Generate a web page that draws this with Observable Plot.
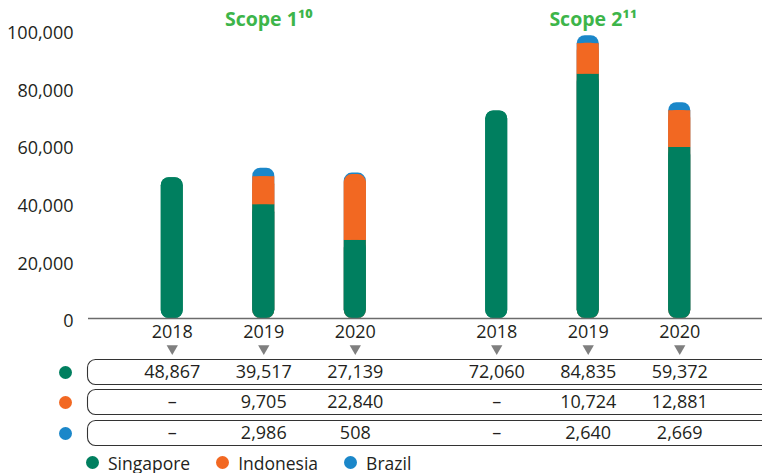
<!DOCTYPE html>
<html>
<head>
<meta charset="utf-8">
<script src="https://cdn.jsdelivr.net/npm/d3@7"></script>
<script src="https://cdn.jsdelivr.net/npm/@observablehq/plot@0.6"></script>
<style>
  body { margin: 0; background: #fff; font-family: "Open Sans", sans-serif; color: #231f20; }
  #wrap { position: relative; width: 762px; height: 473px; overflow: hidden; }
  #title { position: absolute; left: 183px; top: -12px; font-size: 18px; line-height: 18px; color: #1b87c9; white-space: nowrap; }
  #chart { position: absolute; left: 0; top: 0; }
  #legend { position: absolute; left: 86px; top: 450px; height: 25px; display: flex; align-items: center; font-size: 17.5px; }
  .item { display: flex; align-items: center; margin-right: 26px; }
  .sw { width: 13px; height: 13px; border-radius: 50%; margin-right: 9px; }
</style>
</head>
<body>
<div id="wrap">
  <div id="title">(tCO₂e)</div>
  <div id="chart"></div>
  <div id="legend"></div>
</div>
<script>
// ---- data ----
const scopes = ["Scope 1", "Scope 2"];
const scopeLabels = ["Scope 1¹⁰", "Scope 2¹¹"];
const years = ["2018", "2019", "2020"];
const series = ["Singapore", "Indonesia", "Brazil"];
const colors = ["#007f5f", "#f26822", "#1b87c9"];
const singapore = [48867, 39517, 27139, 72060, 84835, 59372];
const indonesia = [null, 9705, 22840, null, 10724, 12881];
const brazil = [null, 2986, 508, null, 2640, 2669];
const yTicks = [0, 20000, 40000, 60000, 80000, 100000];

// ---- layout ----
const W = 762, H = 448;
const mt = 30, mb = 130, ml = 115, mr = 26;
const frameH = H - mt - mb;
const yMax = 100000;
const barR = 8;
const rData = barR * yMax / frameH;
const fmt = v => v == null ? "–" : d3.format(",")(v);
const textColor = "#231f20";
const FONT = 18;

const rows = [];
scopes.forEach((sc, si) => years.forEach((yr, yi) => {
  const k = si * years.length + yi;
  const s = singapore[k], i = indonesia[k] ?? 0, b = brazil[k] ?? 0;
  rows.push({scope: sc, year: yr, s, i, b, si: s + i, total: s + i + b,
             vals: [singapore[k], indonesia[k], brazil[k]]});
}));
const topColor = d => d.b > 0 ? colors[2] : d.i > 0 ? colors[1] : colors[0];
const first = [{fx: scopes[0]}];
const rowDy = [54, 84, 115];
const boxHalf = 12.5;

const marks = [];
// stacked bars drawn as layered rounded shapes
marks.push(Plot.barY(rows, {fx: "scope", x: "year", y1: 0, y2: "total", fill: topColor, rx: barR}));
marks.push(Plot.barY(rows.filter(d => d.i > 0), {fx: "scope", x: "year", y1: 0, y2: "si", fill: colors[1], rx: barR}));
marks.push(Plot.barY(rows, {fx: "scope", x: "year", y1: 0, y2: "s", fill: colors[0], rx: barR}));
marks.push(Plot.barY(rows.filter(d => d.s < d.total), {fx: "scope", x: "year", y1: rData, y2: d => Math.min(d.s, d.total - rData), fill: colors[0]}));
marks.push(Plot.barY(rows.filter(d => d.i > 0 && d.b > 0), {fx: "scope", x: "year", y1: "s", y2: d => Math.min(d.si, d.total - rData), fill: colors[1]}));
// baseline
marks.push(Plot.ruleY(first, {fx: "fx", y: () => 0, insetLeft: -(ml - 88), insetRight: -500, stroke: "#6b6b6b", strokeWidth: 1.6}));
// axes
marks.push(Plot.axisY(yTicks, {tickSize: 0, tickPadding: ml - 73, tickFormat: d3.format(","), fontSize: FONT, dy: 3, fill: textColor}));
marks.push(Plot.axisX({tickSize: 0, tickPadding: 7, fontSize: FONT, fill: textColor}));
// scope headers
marks.push(Plot.text(scopes, {fx: d => d, text: (d, i) => scopeLabels[i], frameAnchor: "top", lineAnchor: "middle", dy: -11, dx: 5, fontSize: 19.5, fontWeight: "bold", fill: "#3db54a"}));
// down triangles
marks.push(Plot.dot(rows, {fx: "scope", x: "year", frameAnchor: "bottom", dy: 30, symbol: "triangle", rotate: 180, r: 4.2, fill: "#7f7f7f", stroke: "none"}));
// table rows
series.forEach((name, k) => {
  const dy = rowDy[k];
  marks.push(Plot.rect(first, {fx: "fx", insetTop: frameH + dy - boxHalf, insetBottom: -(dy + boxHalf),
    insetLeft: -(ml - 87.5), insetRight: -500, rx: 8, fill: "none", stroke: "#333", strokeWidth: 1.1}));
  marks.push(Plot.dot(first, {fx: "fx", frameAnchor: "bottom-left", dx: -50, dy, r: 6.5, fill: colors[k], stroke: "none"}));
  marks.push(Plot.text(rows, {fx: "scope", x: "year", text: d => fmt(d.vals[k]), frameAnchor: "bottom", lineAnchor: "middle", dy, fontSize: FONT, fill: textColor}));
});

const chart = Plot.plot({
  width: W, height: H,
  marginTop: mt, marginBottom: mb, marginLeft: ml, marginRight: mr,
  style: {fontFamily: "Open Sans", fontSize: FONT + "px", color: textColor, background: "white"},
  fx: {domain: scopes, paddingInner: 0.086, paddingOuter: 0, round: false, axis: null, label: null},
  x: {domain: years, paddingInner: 0.7596, paddingOuter: 0.5, round: false, axis: null, label: null},
  y: {domain: [0, yMax], axis: null, label: null},
  color: {type: "identity"},
  marks
});
document.getElementById("chart").appendChild(chart);

const legend = document.getElementById("legend");
series.forEach((name, k) => {
  const it = document.createElement("div");
  it.className = "item";
  const sw = document.createElement("div");
  sw.className = "sw";
  sw.style.background = colors[k];
  const lb = document.createElement("span");
  lb.textContent = name;
  it.appendChild(sw); it.appendChild(lb);
  legend.appendChild(it);
});
</script>
</body>
</html>
